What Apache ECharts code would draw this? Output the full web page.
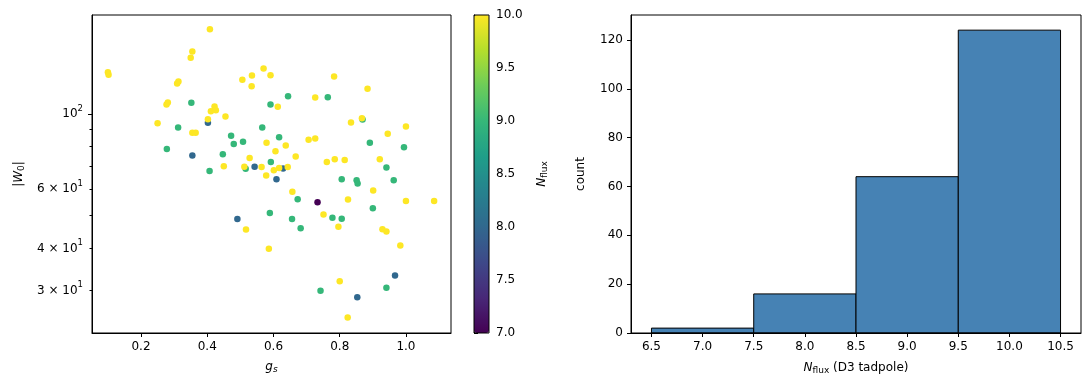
<!DOCTYPE html>
<html lang="en">
<head>
    <meta charset="UTF-8">
    <title>gs vs W0 and Nflux histogram</title>
    <script src="https://cdn.jsdelivr.net/npm/echarts@6/dist/echarts.min.js"></script>
    <style>
        html, body { margin: 0; padding: 0; background: #fff; }
        #chart { width: 1089px; height: 390px; }
    </style>
</head>
<body>
<div id="chart"></div>
<script type="text/javascript">

    // scatter points, grouped by N_flux value
    const gs10 = [0.408, 0.100, 0.102, 0.355, 0.350, 0.309, 0.313, 0.277, 0.281, 0.250, 0.402, 0.411, 0.422, 0.426,
        0.455, 0.355, 0.365, 0.450, 0.528, 0.512, 0.564, 0.578, 0.601, 0.617, 0.643, 0.506, 0.535, 0.534, 0.570,
        0.591, 0.613, 0.579, 0.606, 0.637, 0.517, 0.586, 0.783, 0.884, 0.726, 0.834, 0.867, 1.000, 0.706, 0.726,
        0.945, 0.667, 0.761, 0.785, 0.815, 0.921, 0.657, 0.825, 0.901, 1.000, 1.085, 0.751, 0.796, 0.929, 0.941,
        0.983, 0.800, 0.824];
    const w10 = [178, 132.7, 130.4, 152.9, 146.4, 122.9, 124.6, 106.5, 108.0, 93.8, 96.4, 101.8, 105.1, 102.5,
        98.2, 88.0, 88.0, 70.0, 74.1, 69.8, 69.7, 65.7, 68.1, 69.2, 69.7, 126.1, 129.8, 120.7, 136.1,
        130.1, 104.9, 82.1, 77.5, 80.6, 45.5, 39.9, 128.9, 118.6, 111.7, 94.3, 97.0, 91.7, 83.8, 84.5,
        87.3, 74.8, 72.1, 73.4, 73.1, 73.4, 58.9, 55.8, 59.4, 55.3, 55.3, 50.4, 46.4, 45.6, 44.9,
        40.8, 32.0, 25.0];
    const gs9 = [0.352, 0.312, 0.278, 0.447, 0.472, 0.480, 0.508, 0.407, 0.516, 0.644, 0.591, 0.566, 0.617, 0.592,
        0.764, 0.869, 0.891, 0.994, 0.941, 0.806, 0.851, 0.854, 0.963, 0.673, 0.589, 0.656, 0.682, 0.778,
        0.806, 0.900, 0.742, 0.941];
    const w9 = [107.8, 91.1, 78.7, 75.9, 86.1, 81.5, 82.7, 67.8, 68.8, 112.7, 106.5, 91.1, 85.3, 72.1,
        112.0, 96.2, 82.1, 79.7, 69.4, 64.1, 63.6, 62.2, 63.6, 55.9, 50.9, 48.9, 45.9, 49.3,
        49.0, 52.6, 30.0, 30.6];
    const gs8 = [0.402, 0.355, 0.543, 0.629, 0.609, 0.491, 0.967, 0.853];
    const w8 = [94.1, 75.3, 69.8, 68.9, 64.1, 48.9, 33.3, 28.7];
    const gs7 = [0.733];
    const w7 = [54.8];

    // histogram of N_flux
    const binEdges = [6.5, 7.5, 8.5, 9.5, 10.5];
    const counts = [2, 16, 64, 124];

    // tick labels
    const gsTicks = [0.2, 0.4, 0.6, 0.8, 1.0];
    const wLabelTicks = [30, 40, 60, 100];
    const wMinorTicks = [30, 40, 50, 60, 70, 80, 90];
    const histXTicks = [6.5, 7.0, 7.5, 8.0, 8.5, 9.0, 9.5, 10.0, 10.5];
    const histYTicks = [0, 20, 40, 60, 80, 100, 120];

    const viridis = ['#440154', '#482878', '#3e4989', '#31688e', '#26828e', '#1f9e89', '#35b779', '#6dcd59', '#b4de2c', '#fde725'];
    const FONT = 'DejaVu Sans';

    const wLabels = {30: '{b|3 × 10}{p|1}', 40: '{b|4 × 10}{p|1}', 60: '{b|6 × 10}{p|1}', 100: '{b|10}{p|2}'};

    // build scatter rows [gs, W0, Nflux]; yellow last so it sits on top
    function rows(xs, ys, n) {
        return xs.map((x, i) => [x, ys[i], n]);
    }
    let scatterData = [].concat(rows(gs8, w8, 8), rows(gs7, w7, 7), rows(gs9, w9, 9), rows(gs10, w10, 10));

    let histData = counts.map((c, i) => [binEdges[i], binEdges[i + 1], c]);

    let labelStyle = {color: '#000', fontFamily: FONT, fontSize: 12};
    let tickStyle = {lineStyle: {color: '#000', width: 1}};

    let chart = echarts.init(document.getElementById('chart'), null, {renderer: 'canvas'});

    let option = {
        animation: false,
        backgroundColor: '#fff',
        textStyle: {fontFamily: FONT},
        grid: [
            {left: 92, right: 638, top: 15, bottom: 57, show: true, borderColor: '#000', borderWidth: 1, z: 3},
            {left: 474, width: 15, top: 15, bottom: 57, show: true, borderColor: '#000', borderWidth: 1, z: 6},
            {left: 631, right: 8, top: 15, bottom: 57, show: true, borderColor: '#000', borderWidth: 1, z: 3}
        ],
        xAxis: [
            {
                gridIndex: 0, type: 'value', min: 0.052, max: 1.136,
                name: '{i|g}{s|s}', nameLocation: 'middle', nameGap: 27,
                nameTextStyle: {
                    rich: {
                        i: {fontFamily: FONT, fontSize: 12, fontStyle: 'italic', color: '#000'},
                        s: {fontFamily: FONT, fontSize: 9, fontStyle: 'italic', color: '#000', padding: [5, 0, 0, 0]}
                    }
                },
                axisLine: {lineStyle: {color: '#000'}},
                axisTick: {customValues: gsTicks, length: 4, ...tickStyle},
                axisLabel: {customValues: gsTicks, margin: 8, formatter: v => v.toFixed(1), ...labelStyle},
                splitLine: {show: false}
            },
            {gridIndex: 1, type: 'value', show: false, min: 0, max: 1},
            {
                gridIndex: 2, type: 'value', min: 6.3, max: 10.7,
                name: '{i|N}{s|flux}{b| (D3 tadpole)}', nameLocation: 'middle', nameGap: 28,
                nameTextStyle: {
                    rich: {
                        i: {fontFamily: FONT, fontSize: 12, fontStyle: 'italic', color: '#000'},
                        s: {fontFamily: FONT, fontSize: 9, color: '#000', padding: [5, 0, 0, 0]},
                        b: {fontFamily: FONT, fontSize: 12, color: '#000'}
                    }
                },
                axisLine: {lineStyle: {color: '#000'}},
                axisTick: {customValues: histXTicks, length: 4, ...tickStyle},
                axisLabel: {customValues: histXTicks, margin: 8, formatter: v => v.toFixed(1), ...labelStyle},
                splitLine: {show: false}
            }
        ],
        yAxis: [
            {
                gridIndex: 0, type: 'log', logBase: 10, min: 22.5, max: 196, position: 'left',
                name: '{t||}{i|W}{s|0}{t||}', nameLocation: 'middle', nameGap: 66,
                nameTextStyle: {
                    rich: {
                        t: {fontFamily: FONT, fontSize: 12, color: '#000'},
                        i: {fontFamily: FONT, fontSize: 12, fontStyle: 'italic', color: '#000'},
                        s: {fontFamily: FONT, fontSize: 9, color: '#000', padding: [5, 0, 0, 0]}
                    }
                },
                axisLine: {lineStyle: {color: '#000'}},
                axisTick: {customValues: wMinorTicks, length: 2.5, ...tickStyle},
                axisLabel: {
                    customValues: wLabelTicks, margin: 9,
                    formatter: v => wLabels[Math.round(v)],
                    rich: {
                        b: {fontFamily: FONT, fontSize: 12, color: '#000'},
                        p: {fontFamily: FONT, fontSize: 8.5, color: '#000', padding: [0, 0, 11, 0]}
                    }
                },
                splitLine: {show: false}
            },
            {
                // longer major tick at 10^2
                gridIndex: 0, type: 'log', logBase: 10, min: 22.5, max: 196, position: 'left',
                axisLine: {show: false},
                axisTick: {customValues: [100], length: 4, ...tickStyle},
                axisLabel: {show: false},
                splitLine: {show: false}
            },
            {
                gridIndex: 1, type: 'value', min: 7, max: 10, interval: 0.5, position: 'right',
                name: '{i|N}{s|flux}', nameLocation: 'middle', nameGap: 46,
                nameTextStyle: {
                    rich: {
                        i: {fontFamily: FONT, fontSize: 12, fontStyle: 'italic', color: '#000'},
                        s: {fontFamily: FONT, fontSize: 9, color: '#000', padding: [5, 0, 0, 0]}
                    }
                },
                axisLine: {show: true, lineStyle: {color: '#000'}},
                axisTick: {show: true, length: 4, ...tickStyle},
                axisLabel: {margin: 7, formatter: v => v.toFixed(1), ...labelStyle},
                splitLine: {show: false}
            },
            {
                gridIndex: 2, type: 'value', min: 0, max: 130.2,
                name: 'count', nameLocation: 'middle', nameGap: 44,
                nameTextStyle: {fontFamily: FONT, fontSize: 12, color: '#000'},
                axisLine: {lineStyle: {color: '#000'}},
                axisTick: {customValues: histYTicks, length: 4, ...tickStyle},
                axisLabel: {customValues: histYTicks, margin: 8, ...labelStyle},
                splitLine: {show: false}
            }
        ],
        visualMap: {
            type: 'continuous',
            min: 7, max: 10,
            dimension: 2,
            seriesIndex: 0,
            calculable: false,
            hoverLink: false,
            left: 474, top: 15,
            itemWidth: 15, itemHeight: 318,
            text: null,
            padding: 0,
            inRange: {color: viridis}
        },
        series: [
            {
                type: 'scatter',
                xAxisIndex: 0, yAxisIndex: 0,
                symbolSize: 6.5,
                data: scatterData,
                itemStyle: {opacity: 1}
            },
            {
                type: 'custom',
                xAxisIndex: 2, yAxisIndex: 3,
                data: histData,
                encode: {x: [0, 1], y: 2},
                renderItem: function (params, api) {
                    let topLeft = api.coord([api.value(0), api.value(2)]);
                    let bottomRight = api.coord([api.value(1), 0]);
                    return {
                        type: 'rect',
                        shape: {
                            x: topLeft[0], y: topLeft[1],
                            width: bottomRight[0] - topLeft[0],
                            height: bottomRight[1] - topLeft[1]
                        },
                        style: {fill: '#4682b4', stroke: '#000', lineWidth: 1}
                    };
                }
            }
        ]
    };

    chart.setOption(option);

</script>
</body>
</html>
